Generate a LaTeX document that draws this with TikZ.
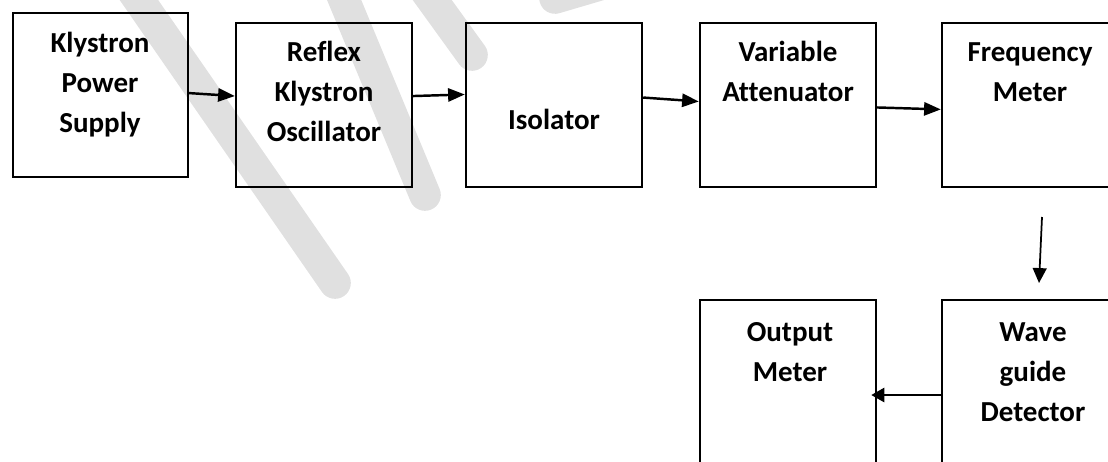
\documentclass[tikz,border=0pt]{standalone}
\usepackage{fontspec}
\setmainfont{Carlito}[Ligatures=NoCommon]
\usetikzlibrary{arrows.meta}
\definecolor{wmark}{RGB}{224,224,224}

\begin{document}
\begin{tikzpicture}[x=0.02cm,y=-0.02cm,
    blk/.style={draw,line width=1.4pt,minimum width=3.52cm,minimum height=3.28cm,inner sep=0pt},
    lbl/.style={anchor=base,text width=4cm,align=center,inner sep=0pt,
      font=\fontsize{16.5}{23}\selectfont\bfseries},
    arr/.style={line width=1.4pt,-{Triangle[length=9.5pt,width=7.5pt]}},
    brush/.style={wmark,line width=18pt,line cap=round}]
    \useasboundingbox (0,0) rectangle (1108,461);
    % Draw the faint brush strokes behind everything
    \draw[brush] (132,-10) -- (335,283);
    \draw[brush] (340,-10) -- (425,195);
    \draw[brush] (425,-10) -- (472,55);
    \draw[brush] (555,-2) -- (650,-30);
    % Draw the blocks of the top row
    \node[blk,minimum width=3.49cm] (kps) at (100.5,95) {};
    \foreach \n/\x in {rko/324,iso/554,va/788,fm/1030}{
        \node[blk] (\n) at (\x,105) {};
    }
    % Draw the blocks of the bottom row
    \node[blk] (om) at (788,382) {};
    \node[blk] (wgd) at (1030,382) {};
    % Put the labels in the blocks
    \node[lbl] (kpst) at (100,52) {Klystron\\Power\\Supply};
    \node[lbl] (rkot) at (324,61) {Reflex\\Klystron\\Oscillator};
    \node[lbl] (isot) at (554,129) {Isolator};
    \node[lbl] (vat) at (788,61) {Variable\\Attenuator};
    \node[lbl] (fmt) at (1030,61) {Frequency\\Meter};
    \node[lbl] (wgdt) at (1033,341) {Wave\\guide\\Detector};
    \node[lbl] (omt) at (790,341) {Output\\Meter};
    % Draw the arrows along the top row
    \foreach \a/\b/\s/\e in {kps/rko/1.1/5.1,rko/iso/5.1/6,iso/va/4.25/2,va/fm/-1.4/-2.5}{
        \draw[arr] ([yshift=\s pt]\a.east) -- ([yshift=\e pt]\b.west);
    }
    % Down to the detector, then back to the meter
    \coordinate (fmout) at (1042,217);
    \coordinate (wgdin) at (1039,283);
    \draw[arr,line width=1pt,-{Triangle[length=8.5pt,width=7.9pt]}] (fmout) -- (wgdin);
    \draw[arr,line width=1.3pt,-{Triangle[length=7.4pt,width=8pt]}]
        ([yshift=-7.4pt]wgd.west) -- ([xshift=-3.4pt,yshift=-7.4pt]om.east);
\end{tikzpicture}
\end{document}
